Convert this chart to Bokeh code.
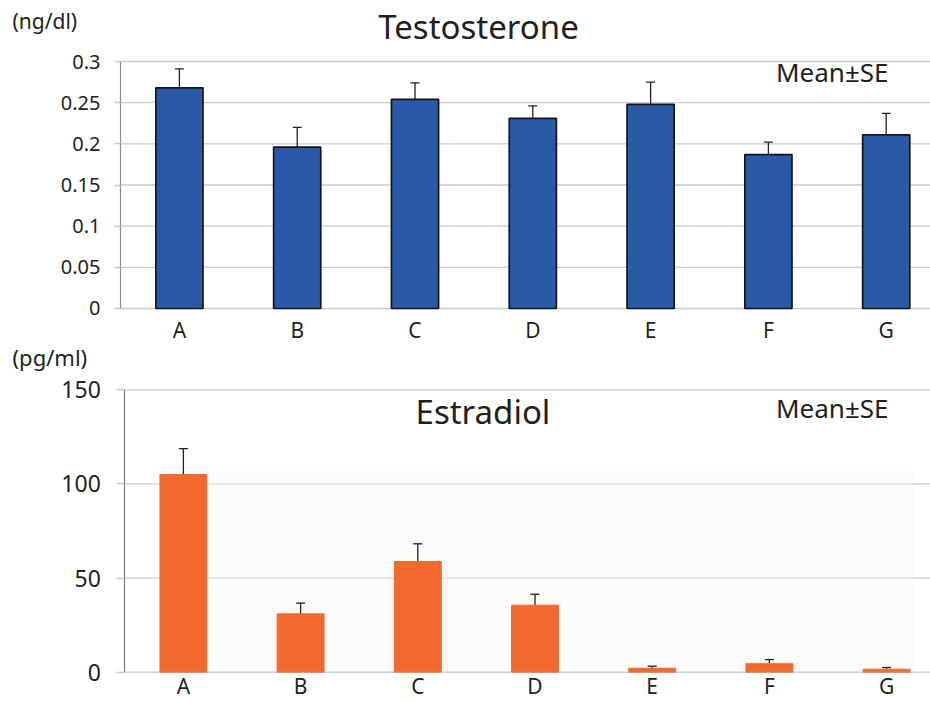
from bokeh.plotting import figure
from bokeh.models import ColumnDataSource, Whisker, TeeHead, Label, FixedTicker, Range1d, BoxAnnotation
from bokeh.layouts import column
from bokeh.embed import file_html
from bokeh.resources import INLINE

# ---- data ----
groups = ["A", "B", "C", "D", "E", "F", "G"]
testo_mean = [0.268, 0.196, 0.254, 0.231, 0.248, 0.187, 0.211]
testo_se = [0.023, 0.024, 0.020, 0.015, 0.027, 0.015, 0.026]
estra_mean = [105.0, 31.0, 58.8, 35.6, 2.1, 4.5, 1.6]
estra_se = [13.8, 5.7, 9.4, 5.8, 1.1, 2.2, 0.9]
testo_ticks = [0, 0.05, 0.1, 0.15, 0.2, 0.25, 0.3]
testo_tick_labels = ["0", "0.05", "0.1", "0.15", "0.2", "0.25", "0.3"]
estra_ticks = [0, 50, 100, 150]
estra_tick_labels = ["0", "50", "100", "150"]

FONT = "Noto Sans"
TXT = "#231f20"
GRID = "#cbcbcb"
xpos = list(range(len(groups)))

src1 = ColumnDataSource(dict(x=xpos, top=testo_mean,
                             up=[m + s for m, s in zip(testo_mean, testo_se)]))
src2 = ColumnDataSource(dict(x=xpos, top=estra_mean,
                             up=[m + s for m, s in zip(estra_mean, estra_se)]))


def style(p, ticks, labels, tick_font, xlab_font, tick_out, standoff_y, standoff_x,
          axis_col, xend):
    p.min_border = 0
    p.outline_line_color = None
    p.xgrid.visible = False
    p.ygrid.visible = False
    # horizontal grid lines from the y axis to the right edge, at the tick values
    p.segment(x0=[-0.5] * len(ticks), x1=[xend] * len(ticks), y0=ticks, y1=ticks,
              line_color=GRID, line_width=1.3, level="underlay")
    ya = p.yaxis[0]
    ya.fixed_location = -0.5
    ya.bounds = (ticks[0], ticks[-1])
    ya.ticker = FixedTicker(ticks=ticks)
    ya.major_label_overrides = {t: l for t, l in zip(ticks, labels)}
    ya.axis_line_color = axis_col
    ya.axis_line_width = 1.2
    ya.major_tick_line_color = GRID
    ya.major_tick_line_width = 1.3
    ya.major_tick_out = tick_out
    ya.major_tick_in = 0
    ya.minor_tick_line_color = None
    ya.major_label_standoff = standoff_y
    ya.major_label_text_font = FONT
    ya.major_label_text_font_size = tick_font
    ya.major_label_text_color = TXT
    xa = p.xaxis[0]
    xa.fixed_location = 0
    xa.axis_line_color = None
    xa.major_tick_line_color = None
    xa.minor_tick_line_color = None
    xa.major_label_standoff = standoff_x
    xa.major_label_text_font = FONT
    xa.major_label_text_font_size = xlab_font
    xa.major_label_text_color = TXT
    xa.ticker = FixedTicker(ticks=xpos)
    xa.major_label_overrides = {i: g for i, g in enumerate(groups)}


# ---- top: Testosterone ----
X1 = (-1.5187, 6.376)
p1 = figure(width=930, height=372, title=None, x_range=Range1d(*X1),
            y_range=Range1d(-0.07774, 0.3741),
            output_backend="svg", toolbar_location=None)
style(p1, testo_ticks, testo_tick_labels, "20px", "21px", 6, 14, 2, "#8c8c8c", X1[1])

p1.vbar(x="x", top="top", width=0.40, bottom=0, source=src1,
        fill_color="#2a5aa7", line_color="#151515", line_width=1.7)
p1.add_layout(Whisker(source=src1, base="x", lower="top", upper="up", dimension="height",
                      line_color="#222222", line_width=1.3, lower_head=None,
                      upper_head=TeeHead(size=9, line_color="#222222", line_width=1.3)))
p1.add_layout(Label(x=2.539, y=0.3425, text="Testosterone", text_align="center",
                    text_baseline="alphabetic", text_font=FONT, text_font_size="33px",
                    text_color=TXT))
p1.add_layout(Label(x=6.0194, y=0.2875, text="Mean\u00b1SE", text_align="right",
                    text_baseline="alphabetic", text_font=FONT, text_font_size="26px",
                    text_color=TXT))
p1.add_layout(Label(x=-1.4168, y=0.3486, text="(ng/dl)", text_align="left",
                    text_baseline="alphabetic", text_font=FONT, text_font_size="21px",
                    text_color=TXT))
# unit label of the lower chart sits in the gap between the two charts
p1.add_layout(Label(x=-1.4168, y=-0.05903, text="(pg/ml)", text_align="left",
                    text_baseline="alphabetic", text_font=FONT, text_font_size="22px",
                    text_color=TXT))

# ---- bottom: Estradiol ----
X2 = (-1.5606, 6.3746)
p2 = figure(width=930, height=330, title=None, x_range=Range1d(*X2),
            y_range=Range1d(-16.09, 159.19),
            output_backend="svg", toolbar_location=None)
p2.add_layout(BoxAnnotation(left=-0.255, right=6.229, bottom=0, top=107,
                            fill_color="#f9f4ef", fill_alpha=0.4, line_color=None,
                            level="underlay"))
style(p2, estra_ticks, estra_tick_labels, "23px", "21px", 8, 16, -6, "#7a7a7a", X2[1])
p2.add_layout(BoxAnnotation(left=-0.255, right=6.229, bottom=0, top=0, fill_alpha=0,
                            line_color="#9dc0d0", line_width=1.3))
p2.vbar(x="x", top="top", width=0.40, bottom=0, source=src2,
        fill_color="#f26a2e", line_color="#f26a2e", line_width=1)
p2.add_layout(Whisker(source=src2, base="x", lower="top", upper="up", dimension="height",
                      line_color="#222222", line_width=1.3, lower_head=None,
                      upper_head=TeeHead(size=9, line_color="#222222", line_width=1.3)))
p2.add_layout(Label(x=2.556, y=138.7, text="Estradiol", text_align="center",
                    text_baseline="alphabetic", text_font=FONT, text_font_size="33px",
                    text_color=TXT))
p2.add_layout(Label(x=6.0162, y=140.2, text="Mean\u00b1SE", text_align="right",
                    text_baseline="alphabetic", text_font=FONT, text_font_size="26px",
                    text_color=TXT))

layout = column(p1, p2, spacing=0)
open("out.html", "w").write(file_html(layout, INLINE))
